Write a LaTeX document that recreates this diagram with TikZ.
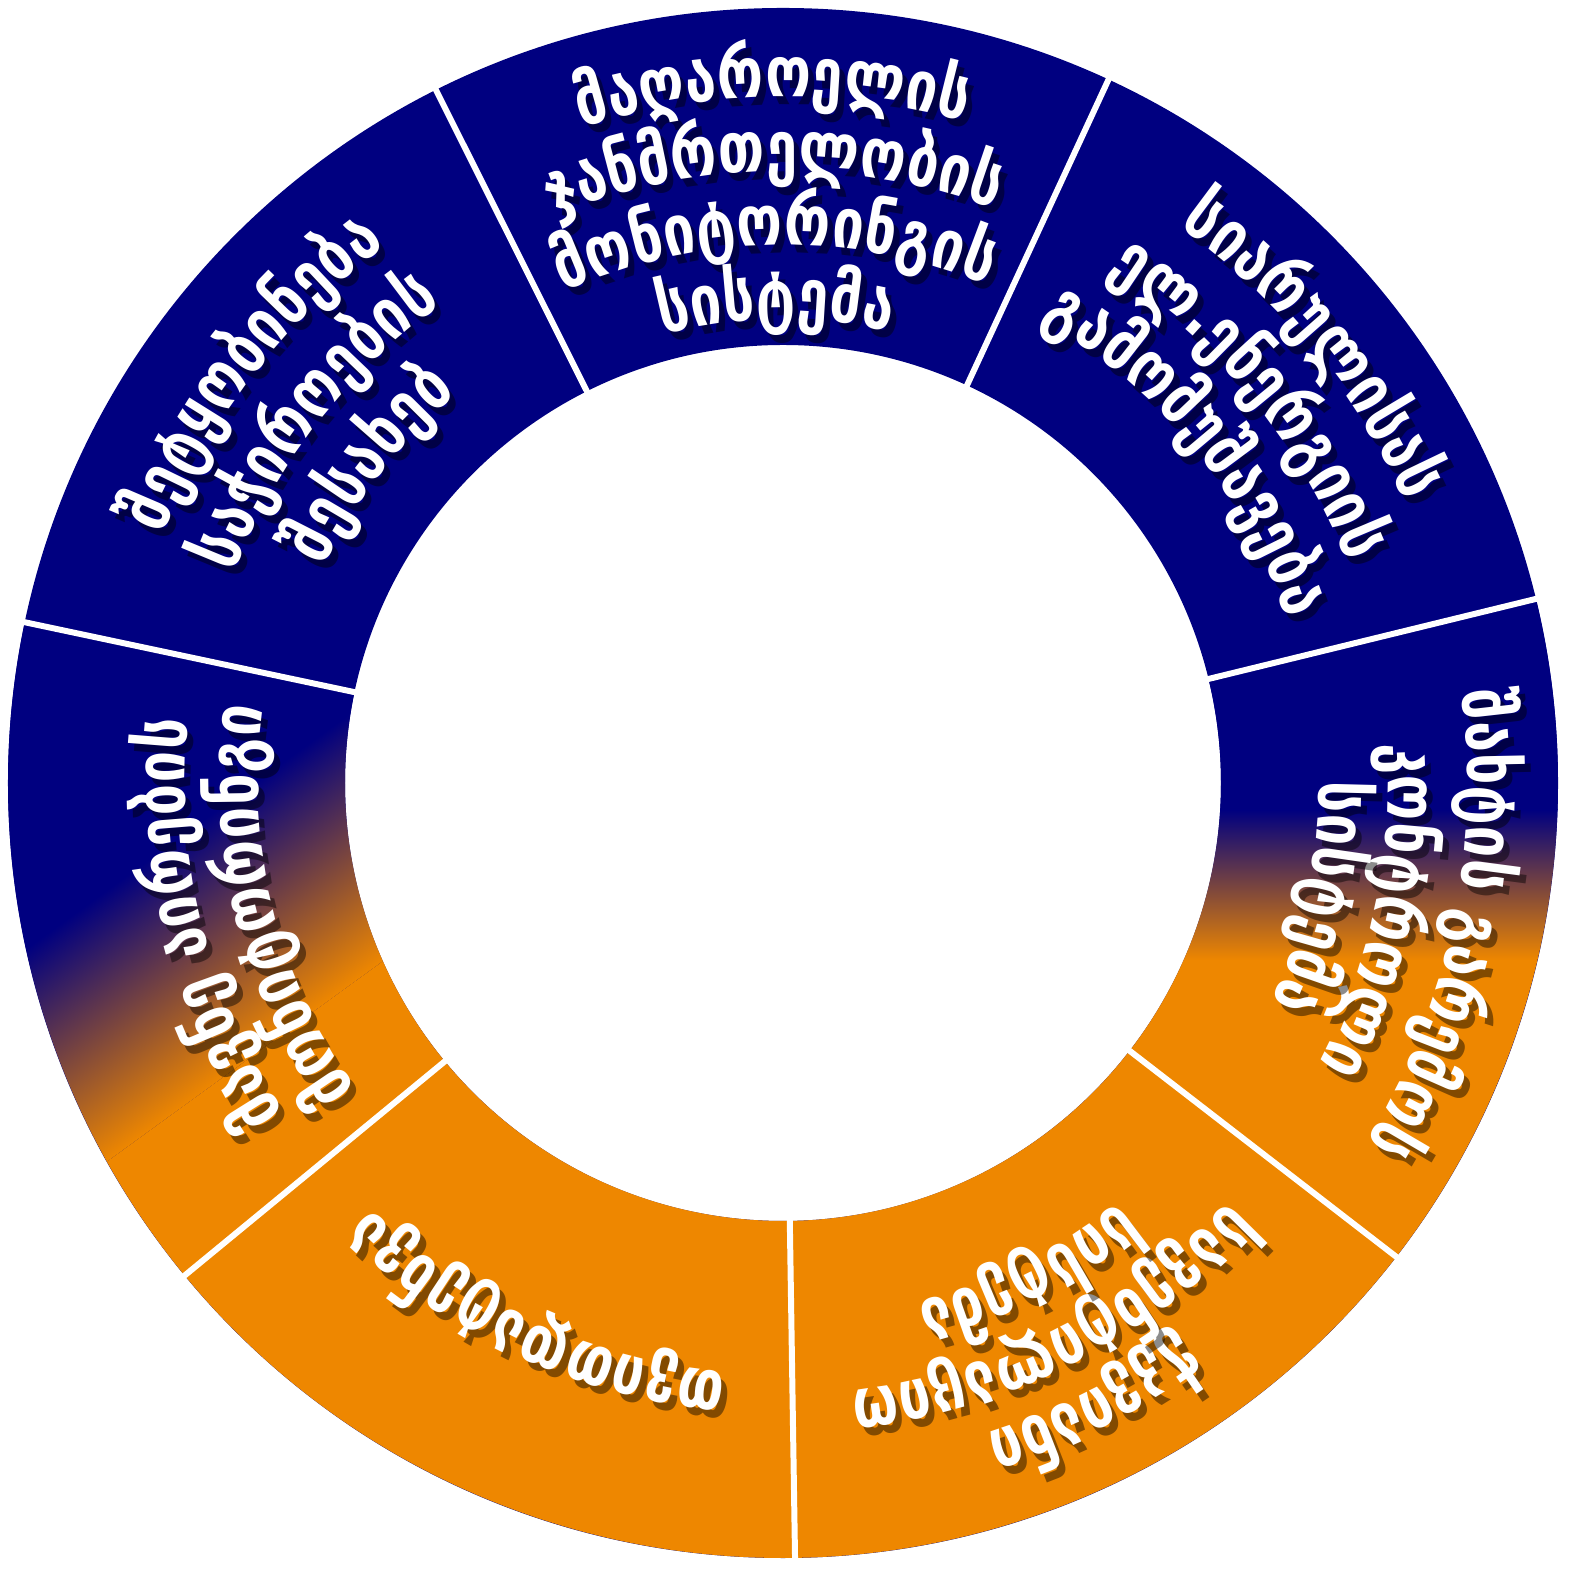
\documentclass[tikz,border=0pt]{standalone}
\usepackage{fontspec}
\newfontfamily\gfont{DejaVu Sans}[FakeStretch=0.8]
\usetikzlibrary{decorations.text}
\definecolor{navyc}{RGB}{0,0,128}
\definecolor{orangec}{RGB}{238,135,0}
\newcommand\gtxt{\gfont\bfseries\fontsize{20}{20}\selectfont}
\tikzset{
  ringtext/.style={decorate, decoration={text along path, text align=center, text color=white, text={|\gtxt|#1}}},
  shadowtext/.style={decorate, decoration={text along path, text align=center, text color=black, text={|\gtxt|#1}}},
  divider/.style={draw=white, line width=1.7pt}
}
% #1 start angle, #2 end angle, #3 baseline radius, #4 text
\newcommand\arcline[4]{%
  \begin{scope}[opacity=0.45]
    \path[shadowtext={#4}, shift={(6,-8)}] (#1:#3) arc[start angle=#1, end angle=#2, radius=#3];
  \end{scope}
  \path[ringtext={#4}] (#1:#3) arc[start angle=#1, end angle=#2, radius=#3];
}
\begin{document}
\begin{tikzpicture}[x=0.01cm, y=0.01cm]
\fill[white] (-783,-800) rectangle (800,783);
\useasboundingbox (-783,-800) rectangle (800,783);
% ring
\fill[navyc, even odd rule] (0,0) circle (775) (0,0) circle (438);
\fill[orangec] (-37.69:438) arc[start angle=-37.69, end angle=-140.54, radius=438] -- (-140.54:775) arc[start angle=-140.54, end angle=-37.69, radius=775] -- cycle;
% right segment gradient
\begin{scope}
  \clip (13.74:438) arc[start angle=13.74, end angle=-37.69, radius=438] -- (-37.69:775) arc[start angle=-37.69, end angle=13.74, radius=775] -- cycle;
  \fill[navyc] (300,-27) rectangle (820,400);
  \shade[top color=navyc, bottom color=orangec] (300,-177) rectangle (820,-27);
  \fill[orangec] (300,-700) rectangle (820,-177);
\end{scope}
% left segment gradient
\begin{scope}
  \clip (-140.54:438) arc[start angle=-140.54, end angle=-191.97, radius=438] -- (-191.97:775) arc[start angle=-191.97, end angle=-140.54, radius=775] -- cycle;
  \begin{scope}[transform canvas={rotate around={36:(-576,-170)}}]
    \fill[navyc] (-1400,-60) rectangle (250,700);
    \shade[top color=navyc, bottom color=orangec] (-1400,-280) rectangle (250,-60);
    \fill[orangec] (-1400,-1000) rectangle (250,-280);
  \end{scope}
\end{scope}
% dividers
\foreach \a in {116.6,65.17,13.74,-37.69,-89.11,-140.54,-191.97}
  \draw[divider] (\a:436) -- (\a:777);
% texts
\arcline{116.6}{65.17}{686}{მაღაროელის}
\arcline{116.6}{65.17}{612}{ჯანმრთელობის}
\arcline{116.6}{65.17}{538}{მონიტორინგის}
\arcline{116.6}{65.17}{464}{სისტემა}
\arcline{65.17}{13.74}{683}{სიარულისას}
\arcline{65.17}{13.74}{606}{ელ.ენერგიის}
\arcline{65.17}{13.74}{530}{გამომუშავება}
\arcline{13.74}{-37.69}{685}{შახტის გარემოს}
\arcline{13.74}{-37.69}{605}{კონტროლი}
\arcline{13.74}{-37.69}{536}{სისტემა}
\arcline{-37.69}{-89.11}{681}{ჭკვიანი}
\arcline{-37.69}{-89.11}{611}{სავენტილაციო}
\arcline{-37.69}{-89.11}{537}{სისტემა}
\arcline{-89.11}{-140.54}{593}{თვითდატენვა}
\arcline{-140.54}{-191.97}{598}{მავნე აირების}
\arcline{-140.54}{-191.97}{525}{მონიტორინგი}
\arcline{-191.97}{-243.4}{668}{შეტყობინება}
\arcline{-191.97}{-243.4}{588}{საჭიროების}
\arcline{-191.97}{-243.4}{508}{შესახებ}
\end{tikzpicture}
\end{document}
